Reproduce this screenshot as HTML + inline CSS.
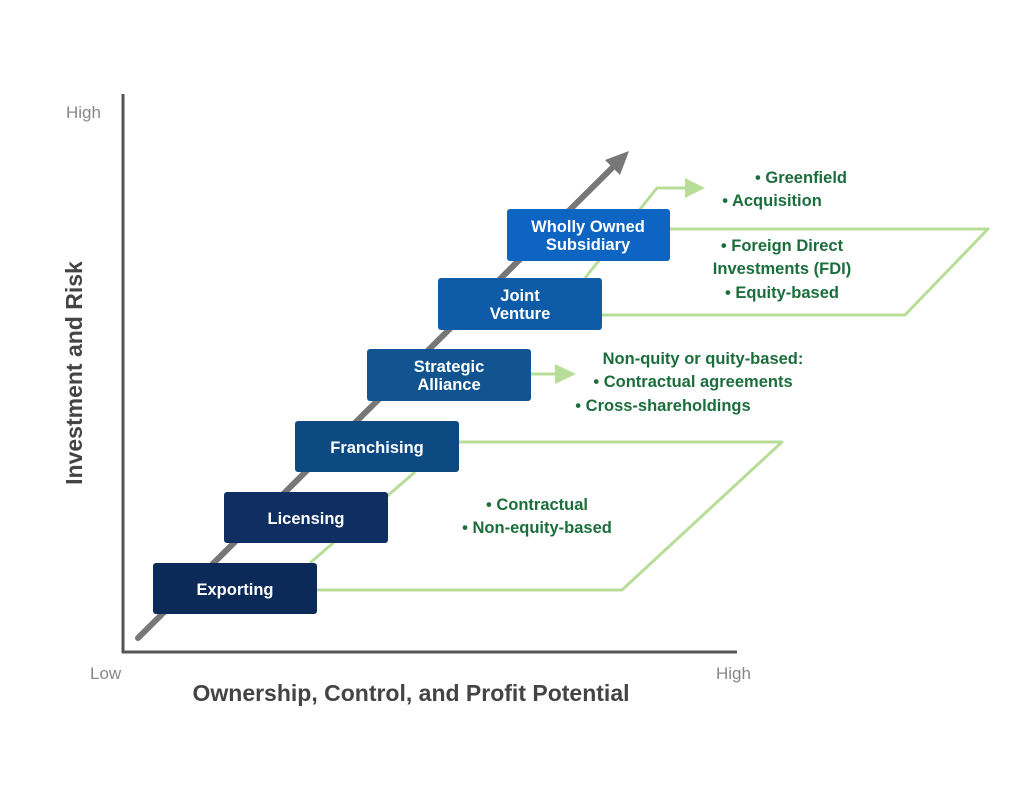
<!DOCTYPE html>
<html><head><meta charset="utf-8"><style>
html,body{margin:0;padding:0;background:#fff;}
svg{display:block;font-family:"Liberation Sans",sans-serif;}
</style></head><body>
<svg width="1024" height="789" viewBox="0 0 1024 789">
<!-- axes -->
<line x1="123" y1="94" x2="123" y2="653" stroke="#555" stroke-width="3"/>
<line x1="122" y1="652" x2="737" y2="652" stroke="#555" stroke-width="3"/>
<text x="66" y="118" font-size="17" fill="#888">High</text>
<text x="90" y="679" font-size="17" fill="#888">Low</text>
<text x="716" y="679" font-size="17" fill="#888">High</text>
<text x="411" y="701" font-size="23" font-weight="bold" fill="#444" text-anchor="middle">Ownership, Control, and Profit Potential</text>
<text transform="translate(82,373) rotate(-90)" font-size="23" font-weight="bold" fill="#444" text-anchor="middle">Investment and Risk</text>
<!-- gray arrow -->
<line x1="138" y1="638" x2="612" y2="168" stroke="#777" stroke-width="6" stroke-linecap="round"/>
<polygon points="629,151 605,160 620,175" fill="#777"/>
<!-- green lines -->
<g fill="none" stroke="#b8dd98" stroke-width="3" stroke-linejoin="round">
<polyline points="317,590 622,590 782,442 459,442"/>
<line x1="310" y1="563" x2="415" y2="472"/>
<polyline points="670,229 988,229 905,315 602,315"/>
<polyline points="585,278 657,188 688,188"/>
<line x1="530" y1="374" x2="558" y2="374"/>
</g>
<polygon points="685,178 705,188 685,198" fill="#b8dd98"/>
<polygon points="555,364 576,374 555,384" fill="#b8dd98"/>
<!-- boxes -->
<g font-size="16.5" font-weight="bold" fill="#fff" text-anchor="middle">
<rect x="153" y="563" width="164" height="51" rx="3" fill="#0c2a57"/>
<text x="235" y="595" fill="#fff">Exporting</text>
<rect x="224" y="492" width="164" height="51" rx="3" fill="#0f2f62"/>
<text x="306" y="524" fill="#fff">Licensing</text>
<rect x="295" y="421" width="164" height="51" rx="3" fill="#0e4a82"/>
<text x="377" y="453" fill="#fff">Franchising</text>
<rect x="367" y="349" width="164" height="52" rx="3" fill="#11548f"/>
<text x="449" y="372" fill="#fff">Strategic</text>
<text x="449" y="390" fill="#fff">Alliance</text>
<rect x="438" y="278" width="164" height="52" rx="3" fill="#0e5ca8"/>
<text x="520" y="301" fill="#fff">Joint</text>
<text x="520" y="319" fill="#fff">Venture</text>
<rect x="507" y="209" width="163" height="52" rx="3" fill="#0d64c2"/>
<text x="588" y="232" fill="#fff">Wholly Owned</text>
<text x="588" y="250" fill="#fff">Subsidiary</text>
</g>
<!-- green text -->
<g font-size="16.5" font-weight="bold" fill="#1b6e3c" text-anchor="middle">
<text x="801" y="183">• Greenfield</text>
<text x="772" y="206">• Acquisition</text>
<text x="782" y="251">• Foreign Direct</text>
<text x="782" y="274">Investments (FDI)</text>
<text x="782" y="298">• Equity-based</text>
<text x="703" y="364">Non-quity or quity-based:</text>
<text x="693" y="387">• Contractual agreements</text>
<text x="663" y="411">• Cross-shareholdings</text>
<text x="537" y="510">• Contractual</text>
<text x="537" y="533">• Non-equity-based</text>
</g>
</svg>
</body></html>
